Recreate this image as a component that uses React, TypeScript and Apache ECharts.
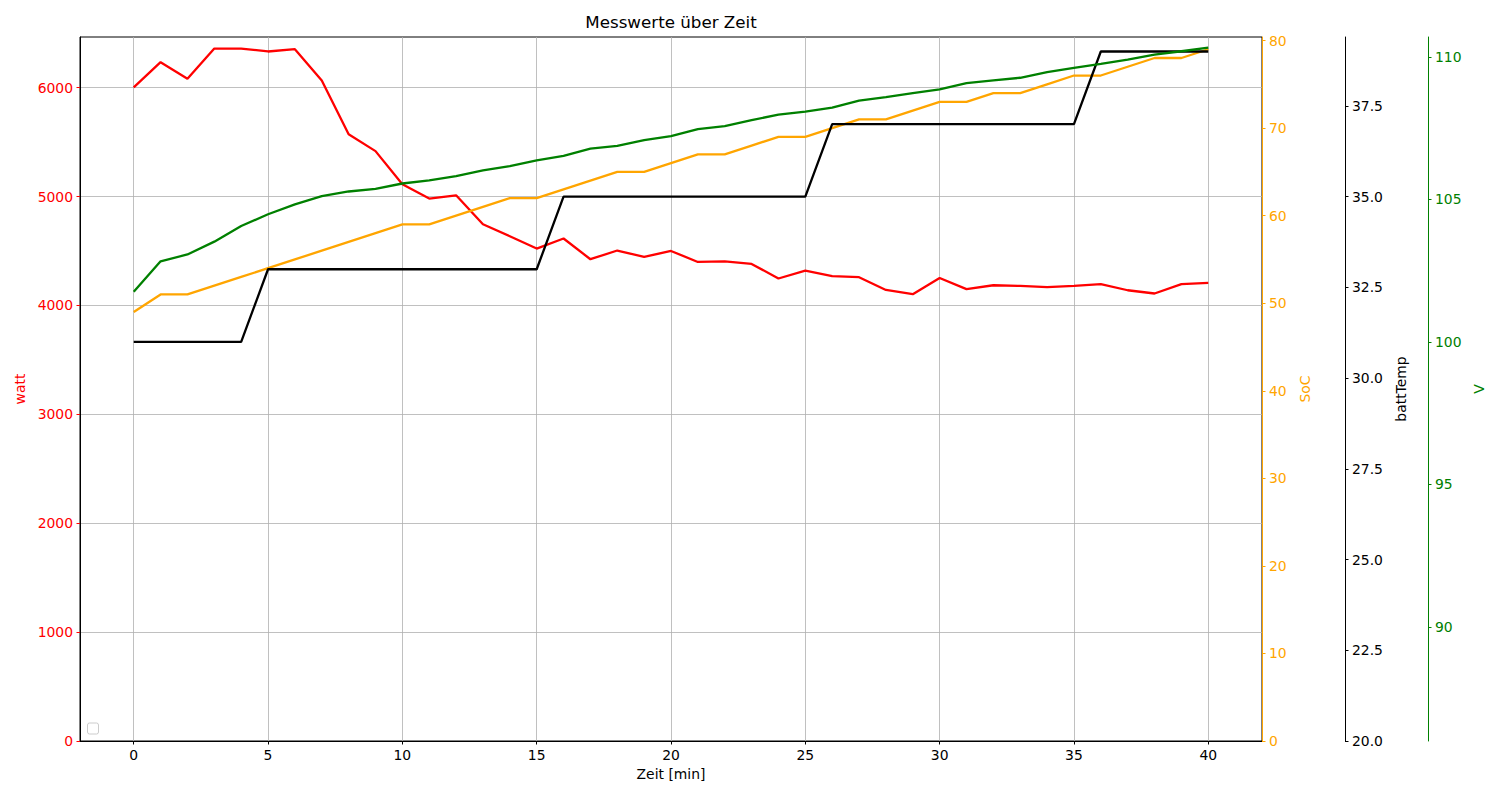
import React, { useEffect, useRef } from "react";
import * as echarts from "echarts";

const zeit = [0, 1, 2, 3, 4, 5, 6, 7, 8, 9, 10, 11, 12, 13, 14, 15, 16, 17, 18, 19, 20, 21, 22, 23, 24, 25, 26, 27, 28, 29, 30, 31, 32, 33, 34, 35, 36, 37, 38, 39, 40];
const watt = [6003, 6235, 6083, 6360, 6360, 6333, 6354, 6067, 5572, 5418, 5113, 4982, 5012, 4746, 4636, 4523, 4615, 4425, 4505, 4446, 4501, 4400, 4406, 4382, 4248, 4321, 4269, 4260, 4143, 4104, 4253, 4150, 4186, 4180, 4168, 4180, 4196, 4140, 4110, 4196, 4207];
const soc = [49, 51, 51, 52, 53, 54, 55, 56, 57, 58, 59, 59, 60, 61, 62, 62, 63, 64, 65, 65, 66, 67, 67, 68, 69, 69, 70, 71, 71, 72, 73, 73, 74, 74, 75, 76, 76, 77, 78, 78, 79];
const battTemp = [31, 31, 31, 31, 31, 33, 33, 33, 33, 33, 33, 33, 33, 33, 33, 33, 35, 35, 35, 35, 35, 35, 35, 35, 35, 35, 37, 37, 37, 37, 37, 37, 37, 37, 37, 37, 39, 39, 39, 39, 39];
const volt = [101.76, 102.83, 103.07, 103.52, 104.07, 104.48, 104.83, 105.12, 105.28, 105.37, 105.56, 105.67, 105.82, 106.02, 106.17, 106.37, 106.53, 106.78, 106.88, 107.08, 107.22, 107.47, 107.57, 107.78, 107.98, 108.08, 108.22, 108.47, 108.59, 108.73, 108.86, 109.08, 109.18, 109.27, 109.47, 109.62, 109.76, 109.91, 110.08, 110.2, 110.33];

const xTicks = [0, 5, 10, 15, 20, 25, 30, 35, 40];
const wattTicks = [0, 1000, 2000, 3000, 4000, 5000, 6000];
const socTicks = [0, 10, 20, 30, 40, 50, 60, 70, 80];
const tempTicks = [20, 22.5, 25, 27.5, 30, 32.5, 35, 37.5];
const voltTicks = [90, 95, 100, 105, 110];

const FONT = "DejaVu Sans";
const FS = 13.9;
const LW = 2.3;

function pairs(ys: number[]) {
  return zeit.map((x, i) => [x, ys[i]]);
}

function rightAxis(
  name: string,
  color: string,
  min: number,
  max: number,
  ticks: number[],
  offset: number,
  nameGap: number,
  fmt?: (v: number) => string
) {
  return {
    type: "value",
    position: "right",
    offset,
    min,
    max,
    name,
    nameLocation: "middle",
    nameGap,
    nameRotate: 90,
    nameTextStyle: { color, fontSize: FS, fontFamily: FONT },
    axisLine: { show: true, onZero: false, lineStyle: { color, width: 1 } },
    axisTick: { show: true, length: 3.5, customValues: ticks, lineStyle: { color, width: 1 } },
    axisLabel: {
      color,
      fontSize: FS,
      fontFamily: FONT,
      margin: 7,
      customValues: ticks,
      formatter: fmt ? (v: number) => fmt(v) : (v: number) => String(v),
    },
    splitLine: { show: false },
  };
}

export default function App() {
  const ref = useRef<HTMLDivElement>(null);
  useEffect(() => {
    if (!ref.current) return;
    const chart = echarts.init(ref.current, undefined, { renderer: "svg" });
    chart.setOption({
      animation: false,
      backgroundColor: "#ffffff",
      textStyle: { fontFamily: FONT },
      grid: {
        left: 80,
        right: 237,
        top: 37,
        bottom: 58,
        show: true,
        borderColor: "#000000",
        borderWidth: 1,
        backgroundColor: "transparent",
      },
      xAxis: {
        type: "value",
        min: -2,
        max: 42,
        name: "Zeit [min]",
        nameLocation: "middle",
        nameGap: 24,
        nameTextStyle: { color: "#000", fontSize: FS, fontFamily: FONT },
        axisLine: { show: true, onZero: false, lineStyle: { color: "#000", width: 1 } },
        axisTick: { show: true, length: 3.5, customValues: xTicks, lineStyle: { color: "#000", width: 1 } },
        axisLabel: { color: "#000", fontSize: FS, fontFamily: FONT, margin: 7, customValues: xTicks, formatter: (v: number) => String(v) },
        splitLine: { show: true, lineStyle: { color: "#b0b0b0", width: 0.8 } },
      },
      yAxis: [
        {
          type: "value",
          position: "left",
          min: 0,
          max: 6466,
          name: "watt",
          nameLocation: "middle",
          nameGap: 44,
          nameRotate: 90,
          nameTextStyle: { color: "#ff0000", fontSize: FS, fontFamily: FONT },
          axisLine: { show: true, onZero: false, lineStyle: { color: "#000", width: 1 } },
          axisTick: { show: true, length: 3.5, customValues: wattTicks, lineStyle: { color: "#ff0000", width: 1 } },
          axisLabel: { color: "#ff0000", fontSize: FS, fontFamily: FONT, margin: 7, customValues: wattTicks, formatter: (v: number) => String(v) },
          splitLine: { show: true, lineStyle: { color: "#b0b0b0", width: 0.8 } },
        },
        rightAxis("SoC", "#ffa500", 0, 80.4, socTicks, 0, 28),
        rightAxis("battTemp", "#000000", 20, 39.4, tempTicks, 83, 41, (v) => v.toFixed(1)),
        rightAxis("V", "#008000", 86.0, 110.7, voltTicks, 166, 38),
      ],
      series: [
        { name: "watt", type: "line", yAxisIndex: 0, data: pairs(watt), showSymbol: false, lineStyle: { color: "#ff0000", width: LW }, itemStyle: { color: "#ff0000" } },
        { name: "SoC", type: "line", yAxisIndex: 1, data: pairs(soc), showSymbol: false, lineStyle: { color: "#ffa500", width: LW }, itemStyle: { color: "#ffa500" } },
        { name: "battTemp", type: "line", yAxisIndex: 2, data: pairs(battTemp), showSymbol: false, lineStyle: { color: "#000000", width: LW }, itemStyle: { color: "#000000" } },
        { name: "V", type: "line", yAxisIndex: 3, data: pairs(volt), showSymbol: false, lineStyle: { color: "#008000", width: LW }, itemStyle: { color: "#008000" } },
      ],
      graphic: [
        {
          type: "text",
          x: 671,
          y: 21.5,
          style: {
            text: "Messwerte über Zeit",
            fontSize: 16.7,
            fontFamily: FONT,
            fill: "#000",
            textAlign: "center",
            textVerticalAlign: "middle",
          },
        },
        {
          type: "rect",
          shape: { x: 87.5, y: 723, width: 11, height: 11, r: 2 },
          style: { fill: "#ffffff", stroke: "#cccccc", lineWidth: 1 },
        },
      ],
    });
    return () => chart.dispose();
  }, []);
  return (
    <div
      ref={ref}
      style={{ position: "fixed", left: 0, top: 0, width: 1499, height: 799, background: "#fff" }}
    />
  );
}
